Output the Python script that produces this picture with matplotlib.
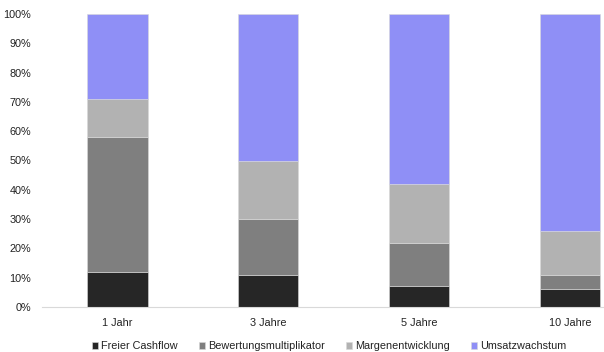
import matplotlib
matplotlib.use('Agg')
import matplotlib.pyplot as plt
import numpy as np
from matplotlib.ticker import PercentFormatter

plt.rcParams['font.family'] = ['Liberation Sans', 'DejaVu Sans']

categories = ['1 Jahr', '3 Jahre', '5 Jahre', '10 Jahre']
series_names = ['Freier Cashflow', 'Bewertungsmultiplikator',
                'Margenentwicklung', 'Umsatzwachstum']
freier_cashflow = [12, 11, 7, 6]
bewertung = [46, 19, 15, 5]
marge = [13, 20, 20, 15]
umsatz = [29, 50, 58, 74]
colors = ['#262626', '#7f7f7f', '#b2b2b2', '#8f8ff6']

fig = plt.figure(figsize=(6.04, 3.52), dpi=100)
ax = fig.add_axes([42 / 604, 45 / 352, 562 / 604, 293 / 352])

x = np.arange(len(categories))
bottom = np.zeros(len(categories))
for name, vals, col in zip(series_names, [freier_cashflow, bewertung, marge, umsatz], colors):
    ax.bar(x, vals, 0.4, bottom=bottom, color=col, label=name,
           edgecolor='#d9d9d9', linewidth=0.4)
    bottom += np.array(vals)

ax.set_xlim(-0.5, 3.225)
ax.set_ylim(0, 100)
ax.set_yticks(np.arange(0, 101, 10))
ax.yaxis.set_major_formatter(PercentFormatter(decimals=0))
ax.set_xticks(x)
ax.set_xticklabels(categories)
ax.tick_params(axis='both', length=0, labelsize=7.8, colors='#222222')
ax.tick_params(axis='y', pad=8)
ax.tick_params(axis='x', pad=8)
for s in ['top', 'right', 'left']:
    ax.spines[s].set_visible(False)
ax.spines['bottom'].set_color('#d9d9d9')
ax.spines['bottom'].set_linewidth(0.8)

fig.legend(loc='lower center', bbox_to_anchor=(0.545, -0.025), ncol=4, frameon=False,
           fontsize=7.8, handlelength=0.6, handleheight=0.6, handletextpad=0.3,
           columnspacing=1.9, labelcolor='#222222')

fig.savefig('out.png', dpi=100)
